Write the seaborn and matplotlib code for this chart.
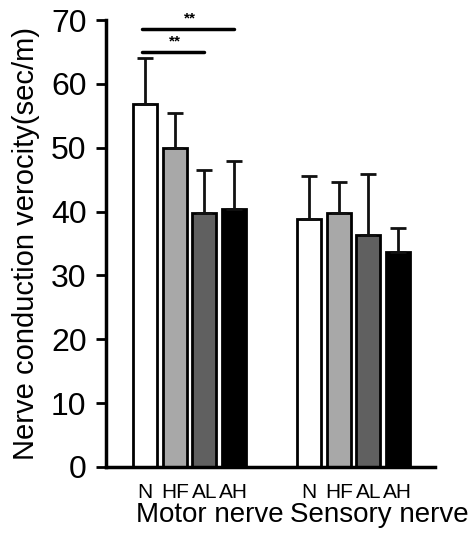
import pandas as pd
import seaborn as sns
import matplotlib.pyplot as plt
import matplotlib.transforms as mtransforms

# Data
nerves = ['Motor nerve', 'Sensory nerve']
groups = ['N', 'HF', 'AL', 'AH']
motor_mean = [56.8, 50.0, 39.8, 40.4]
motor_sd = [7.2, 5.4, 6.7, 7.5]
sensory_mean = [38.8, 39.7, 36.4, 33.6]
sensory_sd = [6.7, 4.9, 9.5, 3.9]
colors = ['#ffffff', '#a8a8a8', '#606060', '#000000']

# significance brackets: (group index a, group index b, y)
sig_pairs = [(0, 2, 65.0), (0, 3, 68.6)]

df = pd.DataFrame({
    'nerve': [nerves[0]] * 4 + [nerves[1]] * 4,
    'group': groups * 2,
    'mean': motor_mean + sensory_mean,
    'sd': motor_sd + sensory_sd,
})

sns.set_style('ticks')
plt.rcParams['font.family'] = ['Liberation Sans', 'DejaVu Sans']
plt.rcParams['text.color'] = 'black'
plt.rcParams['axes.labelcolor'] = 'black'
plt.rcParams['xtick.color'] = 'black'
plt.rcParams['ytick.color'] = 'black'
plt.rcParams['axes.edgecolor'] = 'black'

fig = plt.figure(figsize=(4.75, 5.34), dpi=100)
ax = fig.add_axes([0.2232, 0.1255, 0.6926, 0.837])

sns.barplot(data=df, x='nerve', y='mean', hue='group', order=nerves,
            hue_order=groups, palette=colors, width=0.72, gap=0.19,
            edgecolor='black', linewidth=2, legend=False, ax=ax)

# error bars (upper only) from bar positions
bars = ax.patches
xs, ys, es = [], [], []
for i, g in enumerate(groups):
    for j, n in enumerate(nerves):
        row = df[(df['nerve'] == n) & (df['group'] == g)].iloc[0]
        b = bars[i * 2 + j]
        xs.append(b.get_x() + b.get_width() / 2)
        ys.append(row['mean'])
        es.append(row['sd'])
ax.errorbar(xs, ys, yerr=[[0] * len(es), es], fmt='none', ecolor='#111111',
            elinewidth=2, capsize=6, capthick=2, zorder=1)

# group labels under each bar
trans = mtransforms.blended_transform_factory(ax.transData, ax.transAxes)
for k, x in enumerate(xs):
    g = groups[k // 2]
    ax.text(x, -0.035, g, transform=trans, ha='center', va='top', fontsize=15)

# significance lines (motor nerve bars)
motor_x = [xs[i * 2] for i in range(len(groups))]
for a, b, y in sig_pairs:
    ax.plot([motor_x[a] - 0.02, motor_x[b]], [y, y], color='black', lw=2.5,
            clip_on=False)
    ax.text((motor_x[a] + motor_x[b]) / 2, y + 0.5, '**', ha='center',
            va='bottom', fontsize=11, fontweight='bold')

ax.set_ylim(0, 70)
ax.set_xlim(-0.51, 1.497)
ax.set_yticks(range(0, 71, 10))
# nerve names sit a little right of the bar groups in the original
ax.set_xticks([0.125, 1.16])
ax.set_xticklabels(nerves)
ax.set_ylabel('Nerve conduction verocity(sec/m)', fontsize=21, labelpad=8)
ax.set_xlabel('')
ax.tick_params(axis='y', labelsize=23, length=7, width=2, pad=7)
ax.tick_params(axis='x', labelsize=20, length=0, pad=25)
sns.despine(ax=ax)
for s in ['left', 'bottom']:
    ax.spines[s].set_linewidth(2.5)

fig.savefig('out.png', dpi=100)
